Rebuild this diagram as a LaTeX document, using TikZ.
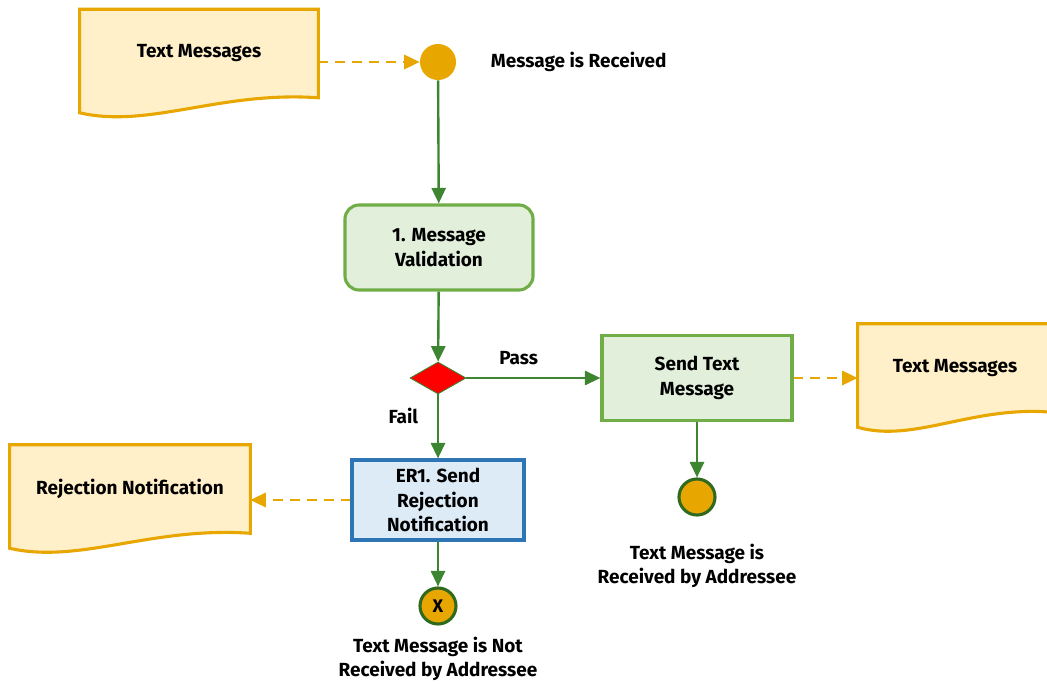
\documentclass[tikz,border=0pt]{standalone}
\usepackage{fontspec}
\setmainfont{Fira Sans}
\usetikzlibrary{arrows.meta,shapes.geometric,calc,backgrounds}

\definecolor{docorange}{HTML}{E8A600}
\definecolor{docfill}{HTML}{FFF0C9}
\definecolor{stepgreen}{HTML}{70AD47}
\definecolor{stepfill}{HTML}{E2EFDA}
\definecolor{flowgreen}{HTML}{3D8530}
\definecolor{ringgreen}{HTML}{2F6A1E}
\definecolor{errblue}{HTML}{2E75B6}
\definecolor{errfill}{HTML}{DDEBF7}

\tikzset{
  lbl/.style={font=\fontsize{13.5}{17.5}\selectfont\bfseries, align=center},
  stepbox/.style={lbl, draw=stepgreen, fill=stepfill, line width=2.2pt,
    minimum width=4.75cm, minimum height=2.125cm},
  errbox/.style={lbl, draw=errblue, fill=errfill, line width=2.2pt,
    minimum width=4.3cm, minimum height=2cm, inner sep=2pt},
  docnode/.style={lbl, minimum width=5.95cm, minimum height=2.2cm, inner sep=0pt},
  docline/.style={draw=docorange, fill=docfill, line width=2.2pt},
  flow/.style={draw=flowgreen, line width=1.7pt, -{Triangle[length=11pt,width=10pt]}},
  dataflow/.style={draw=docorange, line width=2pt, dash pattern=on 7pt off 5pt,
    -{Triangle[length=11pt,width=10pt]}},
  event/.style={circle, fill=docorange, minimum size=0.9cm, inner sep=0pt},
  endevent/.style={event, draw=ringgreen, line width=2.2pt, font=\bfseries\fontsize{13}{14}\selectfont},
  gate/.style={diamond, draw=flowgreen, fill=red, line width=0.6pt,
    minimum width=1.4cm, minimum height=0.8cm, inner sep=0pt},
}

% document outline with a wavy bottom, drawn round a node
\newcommand{\docoutline}[1]{%
  \path[docline] (#1.north west) -- (#1.north east) -- (#1.south east)
    .. controls ($(#1.south east)!0.41!(#1.south west)+(0,-7)$)
    and ($(#1.south west)!0.29!(#1.south east)+(0,31)$)
    .. ($(#1.south west)+(0,15)$) -- cycle;}

\begin{document}
\begin{tikzpicture}[x=0.025cm, y=-0.025cm]
  \useasboundingbox (0,0) rectangle (1047,684);
  \clip (0,0) rectangle (1047,684);

  % documents
  \node[docnode] (msgsIn) at (199,53.5) {Text Messages};
  \node[docnode, minimum width=4.85cm] (msgsOut) at (955,368) {Text Messages};
  \node[docnode, minimum width=6cm] (rejectDoc) at (130,489) {Rejection Notification};
  \begin{scope}[on background layer]
    \docoutline{msgsIn}
    \docoutline{msgsOut}
    \docoutline{rejectDoc}
  \end{scope}

  % events and steps
  \node[event] (received) at (438,62) {};
  \node[lbl, anchor=west] (receivedLbl) at (486,62) {Message is Received};
  \node[stepbox, rounded corners=10pt, minimum width=4.7cm] (validate) at (439,247.5) {1. Message\\Validation};
  \node[gate] (check) at (438,378) {};
  \node[stepbox] (sendMsg) at (697,378) {Send Text\\Message};
  \node[endevent] (delivered) at (697,497) {};
  \node[lbl] (deliveredLbl) at (697,566) {Text Message is\\Received by Addressee};
  \node[errbox] (reject) at (438,500) {ER1. Send\\Rejection\\Notification};
  \node[endevent] (failed) at (438,606) {X};
  \node[lbl] (failedLbl) at (438,659) {Text Message is Not\\Received by Addressee};

  % connectors
  \draw[dataflow] (msgsIn.east |- received) -- (received);
  \draw[flow] (received) -- (validate);
  \draw[flow] (validate) -- (check);
  \draw[flow] (check) -- node[lbl, above=5pt, pos=0.39] {Pass} (sendMsg);
  \draw[flow] (check) -- node[lbl, left=10pt, pos=0.33] {Fail} (reject);
  \draw[dataflow] (sendMsg) -- (msgsOut.west |- sendMsg);
  \draw[flow] (sendMsg) -- (delivered);
  \draw[dataflow] (reject) -- (rejectDoc.east |- reject);
  \draw[flow] (reject) -- (failed);
\end{tikzpicture}
\end{document}
